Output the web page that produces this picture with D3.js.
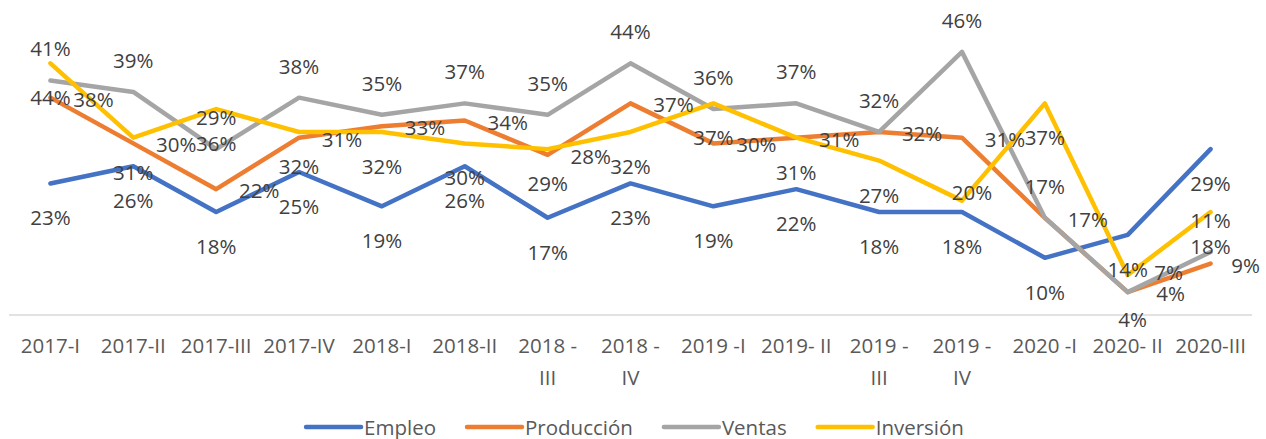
<!DOCTYPE html>
<html>
<head>
<meta charset="utf-8">
<script src="https://cdn.jsdelivr.net/npm/d3@7"></script>
<style>
    body { margin: 0; background: #fff; }
    text { font-family: "Open Sans", sans-serif; }
</style>
</head>
<body>
<div id="chart"></div>
<script>
// periods on the x axis
const categories = ["2017-I", "2017-II", "2017-III", "2017-IV", "2018-I", "2018-II", "2018 - III", "2018 - IV",
    "2019 -I", "2019- II", "2019 - III", "2019 - IV", "2020 -I", "2020- II", "2020-III"];

// series values (%)
const empleo     = [23, 26, 18, 25, 19, 26, 17, 23, 19, 22, 18, 18, 10, 14, 29];
const produccion = [38, 30, 22, 31, 33, 34, 28, 37, 30, 31, 32, 31, 17, 4, 9];
const ventas     = [41, 39, 29, 38, 35, 37, 35, 44, 36, 37, 32, 46, 17, 4, 11];
const inversion  = [44, 31, 36, 32, 32, 30, 29, 32, 37, 31, 27, 20, 37, 7, 18];

const seriesNames = ["Empleo", "Producción", "Ventas", "Inversión"];

const series = [
    { name: seriesNames[0], values: empleo, color: "#4472C4", pos: "below" },
    { name: seriesNames[1], values: produccion, color: "#ED7D31", pos: "right" },
    { name: seriesNames[2], values: ventas, color: "#A5A5A5", pos: "above" },
    { name: seriesNames[3], values: inversion, color: "#FFC000", pos: "below" },
];

// hand-moved labels in the original (dx, dy from the point)
const labelNudge = {
    "Inversión-11": [10, -9],
    "Inversión-13": [41, -3],
    "Ventas-13": [5, 27],
    "Producción-14": [35, 1],
};

const W = 1266, H = 439;
const margin = { top: 29, right: 14, bottom: 124, left: 9 };
const width = W - margin.left - margin.right;
const height = H - margin.top - margin.bottom;

const svg = d3.select("#chart").append("svg")
    .attr("width", W)
    .attr("height", H);

const g = svg.append("g")
    .attr("transform", `translate(${margin.left},${margin.top})`);

const x = d3.scaleBand().domain(categories).range([0, width]);
const y = d3.scaleLinear().domain([0, 50]).range([height, 0]);
const cx = (d, i) => x(categories[i]) + x.bandwidth() / 2;

// baseline
g.append("line")
    .attr("x1", 0).attr("x2", width)
    .attr("y1", y(0)).attr("y2", y(0))
    .attr("stroke", "#d9d9d9")
    .attr("stroke-width", 1.5);

// category labels, wrapped like excel
const xLab = g.append("g").attr("class", "x-labels");
categories.forEach((c) => {
    let lines = c.includes(" - ") ? [c.split(" - ")[0] + " -", c.split(" - ")[1]] : [c];
    let t = xLab.append("text")
        .attr("x", x(c) + x.bandwidth() / 2)
        .attr("y", y(0) + 38)
        .attr("text-anchor", "middle")
        .attr("font-size", "20.5px")
        .attr("fill", "#595959");
    lines.forEach((l, k) => {
        t.append("tspan")
            .attr("x", x(c) + x.bandwidth() / 2)
            .attr("dy", k === 0 ? 0 : 32)
            .text(l);
    });
});

// lines
const line = d3.line()
    .x(cx)
    .y((d) => y(d));

g.selectAll(".series")
    .data(series)
    .enter()
    .append("path")
    .attr("class", "series")
    .attr("d", (s) => line(s.values))
    .attr("fill", "none")
    .attr("stroke", (s) => s.color)
    .attr("stroke-width", 4.5)
    .attr("stroke-linejoin", "round")
    .attr("stroke-linecap", "round");

// data labels
const labels = g.append("g").attr("class", "labels");
series.forEach((s) => {
    s.values.forEach((v, i) => {
        let px = cx(v, i), py = y(v);
        let dx = 0, dy = 0;
        if (s.pos === "below") dy = 34;
        if (s.pos === "above") dy = -32;
        if (s.pos === "right") { dx = 43; dy = 1; }
        let n = labelNudge[s.name + "-" + i];
        if (n) { dx = n[0]; dy = n[1]; }
        labels.append("text")
            .attr("x", px + dx)
            .attr("y", py + dy)
            .attr("text-anchor", "middle")
            .attr("dominant-baseline", "central")
            .attr("font-size", "20.5px")
            .attr("fill", "#404040")
            .text(v + "%");
    });
});

// legend
const legend = svg.append("g").attr("class", "legend");
let lx = 0;
series.forEach((s) => {
    let item = legend.append("g").attr("transform", `translate(${lx},0)`);
    item.append("line")
        .attr("x1", 0).attr("x2", 55)
        .attr("y1", 0).attr("y2", 0)
        .attr("stroke", s.color)
        .attr("stroke-width", 4.5)
        .attr("stroke-linecap", "round");
    let t = item.append("text")
        .attr("x", 58)
        .attr("y", 0)
        .attr("dominant-baseline", "central")
        .attr("font-size", "20.5px")
        .attr("fill", "#595959")
        .text(s.name);
    lx += 58 + t.node().getComputedTextLength() + 31;
});
let legendW = lx - 31;
legend.attr("transform", `translate(${(W - legendW) / 2 + 2},${427})`);
</script>
</body>
</html>
